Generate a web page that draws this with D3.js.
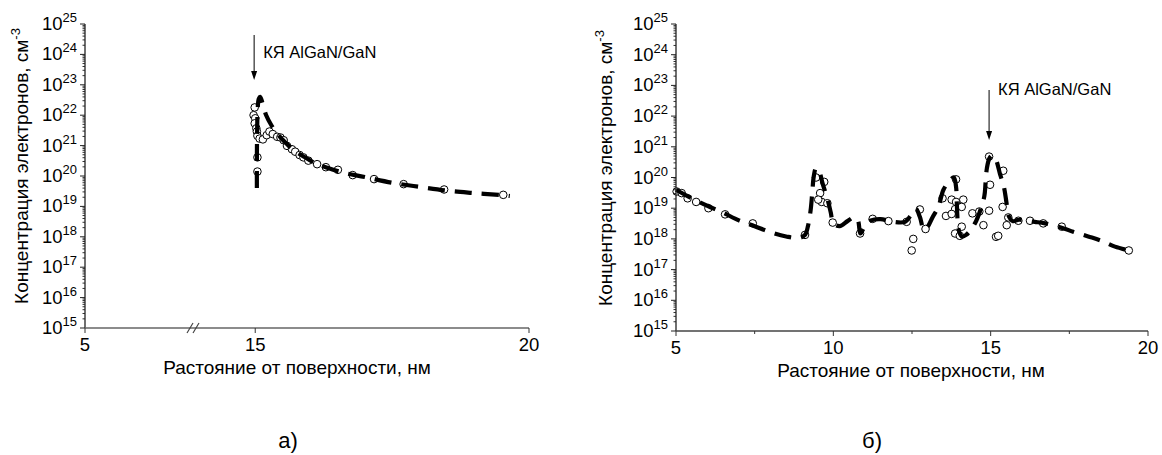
<!DOCTYPE html>
<html><head><meta charset="utf-8">
<script src="https://cdn.jsdelivr.net/npm/d3@7"></script>
<style>body{margin:0;background:#fff}svg{display:block}text{font-family:"Liberation Sans",Arial,sans-serif;fill:#000}</style>
</head><body>
<svg id="c" width="1162" height="455"></svg>
<script>
// ---------- data ----------
const yTickExps = [15,16,17,18,19,20,21,22,23,24,25];
const xTicksA = [5, 15, 20];
const xTicksB = [5, 10, 15, 20];
const xMinorB = [7.5, 12.5, 17.5];

// panel a: calculated profile (dashed) and measured points (circles)
const lineAX = [15.03,15.03,15.035,15.045,15.065,15.09,15.13,15.2,15.3,15.4,15.55,15.7,15.9,16.1,16.3,16.6,17.0,17.5,18.0,18.5,19.0,19.5,19.65];
const lineAY = [4.0e19,3.2e20,3.2e21,1.6e22,3.5e22,4.0e22,2.6e22,1.0e22,4.5e21,2.5e21,1.26e21,7.1e20,4.2e20,2.6e20,1.9e20,1.3e20,9.3e19,6.0e19,4.4e19,3.3e19,2.75e19,2.35e19,2.2e19];
const ptsAX = [14.99,14.97,15.00,14.99,15.02,15.03,15.04,15.08,15.14,15.21,15.26,15.32,15.40,15.46,15.52,15.58,15.67,15.73,15.81,15.88,15.97,16.13,16.29,16.51,16.78,17.17,17.71,18.45,19.53,15.04,15.04];
const ptsAY = [1.8e22,1.0e22,7.9e21,5.4e21,3.7e21,2.9e21,2.1e21,1.7e21,1.6e21,2.2e21,2.9e21,2.4e21,1.95e21,1.85e21,1.5e21,9.8e20,7.6e20,6.3e20,4.9e20,4.1e20,3.2e20,2.45e20,1.95e20,1.6e20,1.07e20,7.9e19,5.4e19,3.6e19,2.4e19,4.1e20,1.4e20];

// panel b
const lineBX = [5.0,5.5,6.0,6.5,7.0,7.5,8.0,8.5,8.9,9.1,9.2,9.28,9.33,9.38,9.45,9.55,9.66,9.75,9.84,9.92,10.0,10.2,10.45,10.65,10.78,10.86,11.0,11.2,11.5,11.9,12.28,12.45,12.62,12.75,12.88,13.0,13.15,13.34,13.5,13.7,13.83,13.9,13.92,13.94,13.97,14.08,14.22,14.5,14.71,14.8,14.84,14.88,14.96,15.05,15.15,15.3,15.42,15.5,15.56,15.7,15.9,16.4,16.73,17.3,17.62,18.1,18.47,18.95,19.39];
const lineBY = [4.0e19,2.1e19,1.2e19,7.1e18,4.0e18,2.6e18,1.66e18,1.2e18,1.07e18,1.35e18,2.8e18,8.9e18,3.2e19,1.12e20,2.0e20,1.58e20,6.3e19,3.2e19,1.58e19,7.1e18,3.2e18,2.6e18,3.8e18,5.0e18,4.0e18,1.5e18,2.6e18,4.0e18,4.4e18,3.6e18,3.6e18,5.6e18,9.5e18,5.2e18,2.0e18,2.5e18,5.0e18,1.12e19,4.0e19,7.9e19,1.0e20,5.0e19,1.86e19,6.0e18,2.24e18,1.2e18,1.35e18,3.2e18,1.12e19,2.5e19,7.1e19,2.0e20,4.2e20,5.2e20,4.2e20,1.26e20,5.0e19,1.58e19,6.0e18,3.8e18,4.2e18,3.6e18,3.2e18,2.24e18,1.7e18,1.2e18,9.1e17,5.6e17,4.2e17];
const ptsBX = [5.02,5.18,5.37,5.64,6.03,6.56,7.44,9.10,9.45,9.71,9.58,9.63,9.81,9.52,9.98,10.85,11.25,11.75,12.33,12.75,12.93,12.54,12.49,13.47,13.58,13.90,13.76,13.90,14.13,14.08,13.87,13.76,14.08,13.87,14.02,14.42,14.64,14.95,14.77,14.98,14.95,15.17,15.24,15.40,15.38,15.56,15.51,15.88,16.25,16.67,17.26,19.39];
const ptsBY = [3.5e19,3.1e19,2.1e19,1.6e19,1.0e19,6.3e18,3.2e18,1.35e18,1.0e20,7.2e19,3.1e19,1.6e19,1.45e19,1.9e19,3.4e18,1.5e18,4.5e18,3.8e18,3.6e18,9.1e18,2.1e18,1.0e18,4.2e17,2.1e19,5.6e18,8.7e19,1.9e19,1.6e19,1.9e19,1.1e19,9.3e18,6.5e18,2.5e18,1.5e18,1.26e18,6.8e18,7.8e18,8.3e18,2.8e18,5.8e19,4.8e20,1.17e18,1.26e18,1.66e20,1.1e19,5.0e18,2.8e18,3.9e18,3.9e18,3.2e18,2.5e18,4.2e17];

const yTitle = "Концентрация электронов, см";
const xTitle = "Растояние от поверхности, нм";
const annText = "КЯ AlGaN/GaN";
const panelLabels = ["а)", "б)"];

// ---------- drawing ----------
const svg = d3.select("#c");
svg.append("rect").attr("width",1162).attr("height",455).attr("fill","#fff");

function panel(o){
  const g = svg.append("g");
  const x = o.x, y = o.y;
  const x0 = x.range()[0], x1 = x.range()[x.range().length-1];
  const yb = y.range()[0], yt = y.range()[1];

  const pts = o.px.map((d,i)=>[d,o.py[i]]);
  g.selectAll("circle.p").data(pts).join("circle")
    .attr("cx",d=>x(d[0])).attr("cy",d=>y(d[1])).attr("r",3.8)
    .attr("fill","#fff").attr("stroke","#000").attr("stroke-width",1);
  const ln = o.lx.map((d,i)=>[d,o.ly[i]]);
  g.append("path").datum(ln)
    .attr("d", d3.line().x(d=>x(d[0])).y(d=>y(d[1])).curve(d3.curveCatmullRom.alpha(0.5)))
    .attr("fill","none").attr("stroke","#000").attr("stroke-width",4.2)
    .attr("stroke-dasharray","17,10");

  // y axis
  const minor = [];
  for (let e=15;e<25;e++) for (let k=2;k<=9;k++) minor.push(k*Math.pow(10,e));
  g.selectAll("line.ym").data(minor).join("line")
    .attr("x1",x0-2.5).attr("x2",x0).attr("y1",d=>y(d)).attr("y2",d=>y(d))
    .attr("stroke","#333").attr("stroke-width",1);
  const majors = yTickExps.map(e=>Math.pow(10,e));
  g.selectAll("line.yM").data(majors).join("line")
    .attr("x1",x0-5).attr("x2",x0).attr("y1",d=>y(d)).attr("y2",d=>y(d))
    .attr("stroke","#222").attr("stroke-width",1);
  g.append("line").attr("x1",x0).attr("x2",x0).attr("y1",yt).attr("y2",yb)
    .attr("stroke","#222").attr("stroke-width",1.3);
  const yl = g.selectAll("text.yl").data(yTickExps).join("text")
    .attr("x",x0-8).attr("y",e=>y(Math.pow(10,e))+6).attr("text-anchor","end")
    .attr("font-size",18.5);
  yl.append("tspan").text("10");
  yl.append("tspan").attr("dy",-8).attr("font-size",13).text(e=>e);

  // x axis
  g.append("line").attr("x1",x0).attr("x2",x1).attr("y1",yb).attr("y2",yb)
    .attr("stroke",o.xColor).attr("stroke-width",1.5);
  g.selectAll("line.xM").data(o.xt).join("line")
    .attr("x1",d=>x(d)).attr("x2",d=>x(d)).attr("y1",yb).attr("y2",yb+5)
    .attr("stroke","#333").attr("stroke-width",1);
  g.selectAll("line.xm").data(o.xm).join("line")
    .attr("x1",d=>x(d)).attr("x2",d=>x(d)).attr("y1",yb).attr("y2",yb+3)
    .attr("stroke","#333").attr("stroke-width",1);
  g.selectAll("text.xl").data(o.xt).join("text")
    .attr("x",d=>x(d)).attr("y",yb+23).attr("text-anchor","middle")
    .attr("font-size",18.5).text(d=>d);

  // titles
  const t = g.append("text").attr("transform",`translate(${o.ytx},${o.yty}) rotate(-90)`)
    .attr("text-anchor","middle").attr("font-size",19);
  t.append("tspan").text(yTitle);
  t.append("tspan").attr("dy",-8).attr("font-size",13).text("-3");
  g.append("text").attr("x",o.xtx).attr("y",o.xty).attr("text-anchor","middle")
    .attr("font-size",19).text(xTitle);
  g.append("text").attr("x",o.plx).attr("y",448).attr("text-anchor","middle")
    .attr("font-size",22).text(o.pl);

  // annotation
  const ax = x(o.annX);
  g.append("line").attr("x1",ax).attr("x2",ax).attr("y1",o.annY0).attr("y2",o.annY1-7)
    .attr("stroke","#000").attr("stroke-width",1);
  g.append("path").attr("d",`M${ax-3},${o.annY1-9}L${ax+3},${o.annY1-9}L${ax},${o.annY1}Z`).attr("fill","#000");
  g.append("text").attr("x",ax+9).attr("y",o.annTy).attr("font-size",16.5).text(annText);
  return g;
}

// panel a (broken x axis)
const xA = d3.scaleLinear().domain([5,13.9,20]).range([85,195,529]);
const yA = d3.scaleLog().domain([1e15,1e25]).range([328,24]);
const gA = panel({x:xA,y:yA,px:ptsAX,py:ptsAY,lx:lineAX,ly:lineAY,xt:xTicksA,xm:[],xColor:"#666",
  ytx:28,yty:166,xtx:297,xty:374,plx:288,pl:panelLabels[0],annX:14.98,annY0:35,annY1:80,annTy:58});
// break marks
[0,6].forEach(dx=>{
  gA.append("line").attr("x1",187+dx).attr("y1",333).attr("x2",193+dx).attr("y2",323)
    .attr("stroke","#444").attr("stroke-width",1.2);
});

// panel b
const xB = d3.scaleLinear().domain([5,20]).range([676,1148]);
const yB = d3.scaleLog().domain([1e15,1e25]).range([331,24]);
panel({x:xB,y:yB,px:ptsBX,py:ptsBY,lx:lineBX,ly:lineBY,xt:xTicksB,xm:xMinorB,xColor:"#444",
  ytx:612,yty:168,xtx:911,xty:377,plx:872,pl:panelLabels[1],annX:14.95,annY0:90,annY1:140,annTy:95});
</script>
</body></html>
